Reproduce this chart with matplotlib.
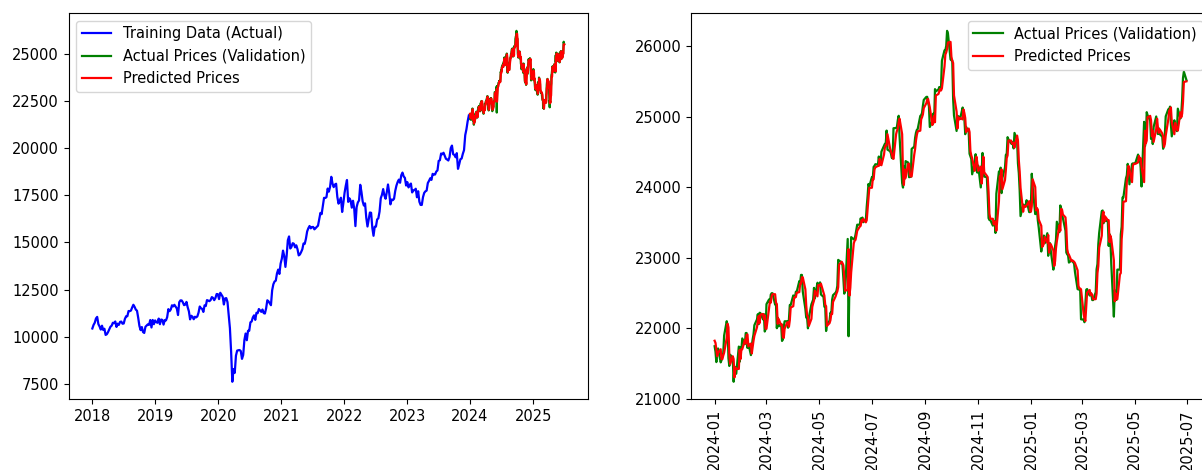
import matplotlib
matplotlib.use("Agg")
import matplotlib.pyplot as plt
import matplotlib.dates as mdates
import numpy as np
import pandas as pd

# Weekly closes used for training (Mondays, 2018-01-01 .. 2023-12-25)
train_start = "2018-01-01"
train_close = [
    # 2018
    10435, 10623, 10741, 10966, 11050, 10666, 10539, 10378, 10583, 10359,
    10421, 10094, 10131, 10245, 10380, 10528, 10584, 10739, 10716, 10806,
    10517, 10689, 10628, 10787, 10800, 10688, 10700, 10948, 11085, 11084,
    11361, 11356, 11385, 11551, 11692, 11582, 11438, 11377, 11005, 10570,
    10348, 10512, 10245, 10199, 10524, 10586, 10656, 10628, 10883, 10488,
    10888, 10663, 10862,
    # 2019
    10771, 10737, 10961, 10661, 10912, 10888, 10640, 10880, 10863, 11035,
    11462, 11354, 11445, 11665, 11605, 11690, 11595, 11497, 11148, 11828,
    11924, 11922, 11823, 11672, 11700, 11844, 11558, 11346, 10918, 11109,
    11058, 10925, 11058, 11023, 11075, 11274, 11600, 11512, 11474, 11313,
    11662, 11627, 11941, 11913, 11884, 11941, 12100, 12056, 11937, 12053,
    12262, 12255,
    # 2020
    11993, 12329, 12224, 12119, 11708, 12031, 12045, 11829, 11132, 10451,
    9197, 7610, 8281, 8084, 8993, 9262, 9282, 9293, 9240, 8823,
    9029, 9826, 10167, 9813, 10312, 10312, 10764, 10802, 11022, 11132,
    10891, 11270, 11247, 11466, 11387, 11317, 11440, 11250, 11227, 11503,
    11930, 11873, 11767, 11669, 12461, 12780, 12926, 12968, 13355, 13558,
    13328, 13873,
    # 2021
    14132, 14563, 14281, 13700, 14281, 15115, 15314, 14676, 14761, 14956,
    14929, 14736, 14845, 14638, 14311, 14359, 14485, 14634, 14942, 14923,
    15197, 15582, 15751, 15869, 15746, 15814, 15818, 15692, 15752, 15824,
    15885, 16238, 16563, 16496, 16931, 17362, 17355, 17396, 17855, 17691,
    17946, 18477, 18125, 17929, 18068, 18109, 17416, 17053, 17196, 17368,
    16614, 17086,
    # 2022
    17625, 18003, 18308, 17149, 17340, 17214, 16842, 17206, 16794, 15863,
    16871, 17117, 17222, 18053, 17675, 17173, 16954, 17069, 16301, 15842,
    16214, 16584, 16569, 15774, 15350, 15832, 15835, 16216, 16278, 16631,
    17340, 17525, 17825, 17490, 17313, 17666, 18070, 17622, 17016, 17274,
    17241, 17312, 17730, 18012, 18203, 18329, 18160, 18562, 18701, 18497,
    18420, 18014,
    # 2023
    18197, 17914, 18053, 18118, 17648, 17764, 17771, 17845, 17393, 17711,
    17154, 16988, 16985, 17398, 17624, 17707, 17744, 18147, 18264, 18399,
    18314, 18633, 18594, 18601, 18755, 18817, 19322, 19355, 19711, 19672,
    19753, 19597, 19434, 19393, 19342, 19528, 19996, 20133, 19675, 19638,
    19512, 19731, 18900, 19141, 19411, 19444, 19694, 19890, 20687, 20997,
    21418, 21731,
]

# Daily closes for the validation window (business days, 2024-01-01 .. 2025-06-30)
valid_start = "2024-01-01"
valid_close = [
    21742, 21665, 21517, 21658, 21710,  21513, 21544, 21618, 21647, 21894,
    22097, 22032, 21571, 21462, 21622,  21571, 21238, 21453, 21352, 21352,
    21737, 21522, 21725, 21697, 21853,  21771, 21929, 21930, 21718, 21782,
    21616, 21743, 21840, 21910, 22040,  22122, 22197, 22055, 22217, 22213,
    22122, 22198, 21951, 21983, 22339,  22406, 22356, 22474, 22494, 22494,
    22333, 22336, 21998, 22147, 22023,  22056, 21817, 21839, 22012, 22096,
    22096, 22005, 22124, 22327, 22327,  22462, 22453, 22434, 22515, 22514,
    22666, 22642, 22754, 22754, 22519,  22273, 22148, 22148, 21996, 22147,
    22336, 22368, 22402, 22570, 22420,  22643, 22605, 22605, 22648, 22476,
    22442, 22302, 22302, 21958, 22055,  22104, 22218, 22201, 22403, 22466,
    22502, 22529, 22597, 22967, 22957,  22932, 22888, 22704, 22488, 22531,
    23264, 21884, 22620, 22821, 23290,  23259, 23264, 23323, 23399, 23466,
    23466, 23557, 23516, 23567, 23501,  23538, 23721, 23868, 24044, 24011,
    24141, 24124, 24286, 24302, 24324,  24320, 24433, 24324, 24316, 24502,
    24587, 24613, 24613, 24801, 24531,  24509, 24479, 24414, 24406, 24835,
    24837, 24857, 24951, 25011, 24718,  24056, 23993, 24298, 24117, 24368,
    24347, 24140, 24144, 24144, 24541,  24573, 24699, 24771, 24811, 24823,
    25010, 25018, 25052, 25152, 25236,  25279, 25280, 25199, 25145, 24852,
    24936, 25041, 24918, 25389, 25357,  25384, 25419, 25378, 25416, 25791,
    25939, 25940, 26004, 26216, 26179,  25811, 25797, 25797, 25250, 25015,
    24796, 25013, 24982, 24998, 24964,  25128, 25057, 24971, 24750, 24854,
    24781, 24472, 24435, 24399, 24181,  24339, 24466, 24341, 24205, 24304,
    23995, 24213, 24484, 24199, 24148,  24141, 23883, 23559, 23533, 23533,
    23453, 23518, 23518, 23349, 23907,  24222, 24194, 24275, 23914, 24131,
    24276, 24457, 24467, 24708, 24677,  24620, 24610, 24641, 24548, 24768,
    24668, 24336, 24199, 23952, 23588,  23753, 23728, 23728, 23750, 23813,
    23645, 23645, 23743, 24189, 24005,  23616, 23707, 23688, 23527, 23432,
    23086, 23176, 23213, 23312, 23203,  23345, 23025, 23155, 23205, 23092,
    22829, 22957, 23163, 23250, 23508,  23361, 23739, 23696, 23603, 23560,
    23382, 23072, 23045, 23031, 22929,  22959, 22945, 22933, 22913, 22795,
    22553, 22547, 22547, 22545, 22124,  22119, 22083, 22337, 22544, 22553,
    22461, 22498, 22470, 22397, 22397,  22509, 22834, 22907, 23191, 23350,
    23658, 23668, 23487, 23592, 23519,  23519, 23165, 23332, 23250, 22904,
    22162, 22536, 22399, 22399, 22829,  22829, 23328, 23437, 23852, 23852,
    24125, 24167, 24329, 24247, 24039,  24328, 24336, 24334, 24334, 24347,
    24461, 24380, 24414, 24273, 24008,  24925, 24578, 24667, 25062, 25020,
    24945, 24683, 24813, 24610, 24853,  25001, 24826, 24752, 24834, 24751,
    24716, 24543, 24620, 24751, 25003,  25103, 25105, 25141, 24888, 24719,
    24947, 24853, 24812, 24793, 25112,  24972, 25044, 25245, 25549, 25637,
    25517,
]

# Model output on the same business days
predicted = [
    21820, 21790, 21700, 21600, 21650,  21700, 21560, 21560, 21610, 21650,
    21860, 22060, 22010, 21620, 21490,  21600, 21560, 21300, 21440, 21420,
    21420, 21690, 21560, 21700, 21700,  21830, 21780, 21900, 21910, 21740,
    21780, 21640, 21730, 21820, 21890,  22010, 22100, 22170, 22070, 22190,
    22200, 22130, 22180, 21990, 21990,  22290, 22380, 22360, 22450, 22480,
    22480, 22360, 22340, 22060, 22130,  22040, 22050, 21870, 21860, 21990,
    22080, 22080, 22020, 22110, 22290,  22310, 22430, 22440, 22440, 22500,
    22510, 22630, 22630, 22720, 22720,  22550, 22320, 22180, 22160, 22030,
    22130, 22300, 22350, 22390, 22530,  22450, 22610, 22600, 22600, 22630,
    22500, 22460, 22330, 22310, 22030,  22070, 22110, 22200, 22200, 22370,
    22450, 22490, 22520, 22580, 22900,  22940, 22920, 22890, 22730, 22530,
    22540, 23120, 22460, 22570, 22790,  23200, 23240, 23250, 23310, 23380,
    23440, 23450, 23530, 23510, 23550,  23500, 23530, 23680, 23830, 23990,
    23990, 24110, 24110, 24250, 24280,  24300, 24300, 24400, 24320, 24310,
    24460, 24560, 24590, 24590, 24750,  24550, 24510, 24470, 24420, 24400,
    24750, 24800, 24830, 24920, 24970,  24750, 24180, 24030, 24250, 24130,
    24330, 24330, 24170, 24150, 24150,  24460, 24540, 24660, 24740, 24790,
    24800, 24960, 24990, 25030, 25120,  25190, 25240, 25250, 25190, 25130,
    24880, 24920, 25010, 24920, 25300,  25320, 25360, 25390, 25370, 25400,
    25710, 25880, 25910, 25960, 26050,  26060, 25850, 25790, 25760, 25300,
    25070, 24830, 24990, 24960, 24980,  24960, 25100, 25050, 24980, 24780,
    24830, 24780, 24510, 24450, 24410,  24230, 24310, 24430, 24340, 24230,
    24290, 24050, 24190, 24430, 24210,  24160, 24140, 23930, 23620, 23550,
    23550, 23470, 23510, 23510, 23380,  23800, 24150, 24170, 24250, 23970,
    24100, 24240, 24410, 24450, 24660,  24660, 24620, 24610, 24630, 24560,
    24730, 24660, 24380, 24220, 23990,  23650, 23730, 23720, 23720, 23740,
    23800, 23670, 23650, 23730, 24110,  24000, 23670, 23700, 23680, 23540,
    23450, 23150, 23170, 23200, 23290,  23210, 23320, 23070, 23150, 23190,
    23100, 22880, 22950, 23130, 23230,  23460, 23380, 23690, 23680, 23610,
    23570, 23410, 23120, 23060, 23040,  22950, 22960, 22950, 22940, 22920,
    22820, 22600, 22560, 22560, 22550,  22200, 22140, 22100, 22300, 22500,
    22540, 22470, 22490, 22470, 22410,  22410, 22490, 22780, 22880, 23140,
    23310, 23610, 23650, 23510, 23580,  23530, 23530, 23220, 23310, 23260,
    22960, 22380, 22490, 22410, 22410,  22760, 22780, 23260, 23410, 23790,
    23800, 24080, 24150, 24300, 24250,  24070, 24300, 24330, 24330, 24330,
    24350, 24440, 24390, 24410, 24290,  24070, 24800, 24620, 24660, 24990,
    25010, 24950, 24720, 24800, 24640,  24820, 24970, 24840, 24770, 24820,
    24760, 24720, 24570, 24610, 24730,  24960, 25080, 25100, 25130, 24920,
    24750, 24910, 24860, 24820, 24800,  25060, 24990, 25040, 25210, 25490,
    25500,
]

train = pd.Series(
    train_close,
    index=pd.date_range(train_start, periods=len(train_close), freq="W-MON"),
)
valid_idx = pd.bdate_range(valid_start, periods=len(valid_close))
valid = pd.DataFrame({"Close": valid_close, "Predictions": predicted}, index=valid_idx)

plt.rcParams["font.size"] = 10.5
plt.rcParams["lines.linewidth"] = 1.6

fig = plt.figure(figsize=(12.02, 4.70), dpi=100)
ax1 = fig.add_axes([0.0572, 0.1504, 0.4318, 0.8213])
ax2 = fig.add_axes([0.5749, 0.1504, 0.4318, 0.8213])

# full history with the validation period
ax1.plot(train.index, train.values, color="blue", label="Training Data (Actual)")
ax1.plot(valid.index, valid["Close"], color="green", label="Actual Prices (Validation)")
ax1.plot(valid.index, valid["Predictions"], color="red", label="Predicted Prices")
ax1.xaxis.set_major_locator(mdates.YearLocator())
ax1.xaxis.set_major_formatter(mdates.DateFormatter("%Y"))
ax1.legend(loc="upper left")

# close-up of the validation period
ax2.plot(valid.index, valid["Close"], color="green", label="Actual Prices (Validation)")
ax2.plot(valid.index, valid["Predictions"], color="red", label="Predicted Prices")
ax2.xaxis.set_major_locator(mdates.MonthLocator(bymonth=[1, 3, 5, 7, 9, 11]))
ax2.xaxis.set_major_formatter(mdates.DateFormatter("%Y-%m"))
ax2.tick_params(axis="x", labelrotation=90)
ax2.legend(loc="upper right")

fig.savefig("out.png", dpi=100)
